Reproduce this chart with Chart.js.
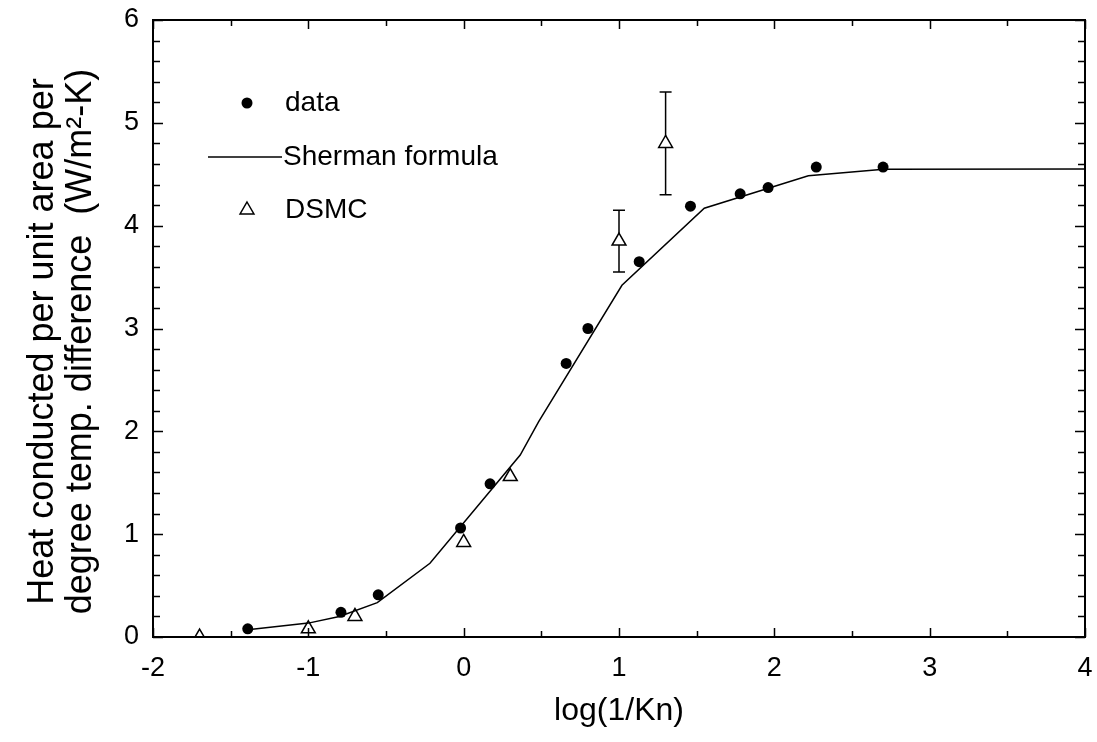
<!DOCTYPE html>
<html>
<head>
<meta charset="utf-8">
<script src="https://cdn.jsdelivr.net/npm/chart.js@4.4.1/dist/chart.umd.min.js"></script>
<style>
  html, body { margin: 0; padding: 0; background: #fff; }
  canvas { display: block; }
</style>
</head>
<body>
<canvas id="heatChart" width="1097" height="742"></canvas>
<script>
// Measured points: log(1/Kn) against heat conducted (W/m2-K)
const dataX = [-1.39, -0.79, -0.55, -0.02, 0.17, 0.66, 0.80, 1.13, 1.46, 1.78, 1.96, 2.27, 2.70]
const dataY = [0.08, 0.24, 0.41, 1.06, 1.49, 2.66, 3.00, 3.65, 4.19, 4.31, 4.37, 4.57, 4.57]

// Sherman interpolation formula
const shermanX = [-1.39, -1.0, -0.8, -0.556, -0.217, 0.364, 0.482, 1.019, 1.549, 2.219, 2.704, 4.0]
const shermanY = [0.07, 0.135, 0.20, 0.334, 0.717, 1.769, 2.092, 3.42, 4.169, 4.486, 4.548, 4.55]

// DSMC runs, with error bars on the two near-continuum cases
const dsmcX = [-1.7, -1.0, -0.7, 0.0, 0.3, 1.0, 1.3]
const dsmcY = [0.0, 0.08, 0.20, 0.92, 1.56, 3.85, 4.80]
const dsmcErr = [0, 0, 0, 0, 0, 0.3, 0.5]

// Axis ranges and tick spacing
const xRange = [-2, 4]
const yRange = [0, 6]
const xMajor = 1, xMinor = 0.5
const yMajor = 1, yMinor = 0.2

const yTitle = ['Heat conducted per unit area per', 'degree temp. difference  (W/m\u00B2-K)']

const toPoints = (xs, ys) => xs.map((x, i) => ({ x: x, y: ys[i] }))

const FONT = 'Liberation Sans, Arial, sans-serif'

//Marcas hacia dentro en los cuatro lados + marco
const frameTicks = {
    id: 'frameTicks',
    afterDraw(chart) {
        const { ctx, chartArea: a, scales: { x, y } } = chart
        ctx.save()
        ctx.strokeStyle = '#000'
        ctx.lineWidth = 1.5
        ctx.beginPath()
        const nx = Math.round((xRange[1] - xRange[0]) / xMinor)
        for (let i = 0; i <= nx; i++) {
            const v = xRange[0] + i * xMinor
            const len = Math.abs(v / xMajor - Math.round(v / xMajor)) < 1e-6 ? 9 : 6
            const px = Math.round(x.getPixelForValue(v)) + 0.5
            ctx.moveTo(px, a.bottom); ctx.lineTo(px, a.bottom - len)
            ctx.moveTo(px, a.top); ctx.lineTo(px, a.top + len)
        }
        const ny = Math.round((yRange[1] - yRange[0]) / yMinor)
        for (let i = 0; i <= ny; i++) {
            const v = yRange[0] + i * yMinor
            const len = Math.abs(v / yMajor - Math.round(v / yMajor)) < 1e-6 ? 10 : 7
            const py = Math.round(y.getPixelForValue(v)) + 0.5
            ctx.moveTo(a.left, py); ctx.lineTo(a.left + len, py)
            ctx.moveTo(a.right, py); ctx.lineTo(a.right - len, py)
        }
        ctx.stroke()
        ctx.lineWidth = 2
        ctx.strokeRect(a.left, a.top, a.right - a.left, a.bottom - a.top)
        ctx.restore()
    }
}

//Título del eje Y en dos líneas, girado
const yAxisTitle = {
    id: 'yAxisTitle',
    afterDraw(chart) {
        const { ctx, chartArea: a } = chart
        ctx.save()
        ctx.translate(0, (a.top + a.bottom) / 2 + 13)
        ctx.rotate(-Math.PI / 2)
        ctx.fillStyle = '#000'
        ctx.font = '36px ' + FONT
        ctx.textAlign = 'center'
        ctx.textBaseline = 'middle'
        ctx.fillText(yTitle[0], 0, 43)
        ctx.fillText(yTitle[1], 0, 81)
        ctx.restore()
    }
}

//Barras de error (debajo de los triángulos)
const errorBars = {
    id: 'errorBars',
    beforeDatasetsDraw(chart) {
        const { ctx, scales: { x, y } } = chart
        ctx.save()
        ctx.strokeStyle = '#000'
        ctx.lineWidth = 1.5
        ctx.beginPath()
        dsmcX.forEach((xv, i) => {
            if (!dsmcErr[i]) return
            const px = x.getPixelForValue(xv)
            const top = y.getPixelForValue(dsmcY[i] + dsmcErr[i])
            const bot = y.getPixelForValue(dsmcY[i] - dsmcErr[i])
            ctx.moveTo(px, top); ctx.lineTo(px, bot)
            ctx.moveTo(px - 6, top); ctx.lineTo(px + 6, top)
            ctx.moveTo(px - 6, bot); ctx.lineTo(px + 6, bot)
        })
        ctx.stroke()
        ctx.restore()
    }
}

//Leyenda dentro del área del gráfico
const insideLegend = {
    id: 'insideLegend',
    afterDraw(chart) {
        const { ctx, chartArea: a } = chart
        const markX = a.left + 94
        const textX = a.left + 132
        const rows = [a.top + 83, a.top + 137, a.top + 190]
        ctx.save()
        ctx.fillStyle = '#000'
        ctx.strokeStyle = '#000'
        ctx.font = '28px ' + FONT
        ctx.textBaseline = 'middle'
        chart.data.datasets.forEach((ds, i) => {
            const ry = rows[i]
            if (ds.showLine) {
                ctx.lineWidth = ds.borderWidth
                ctx.beginPath()
                ctx.moveTo(a.left + 55, ry); ctx.lineTo(a.left + 129, ry)
                ctx.stroke()
                ctx.fillText(ds.label, a.left + 130, ry)
                return
            }
            ctx.beginPath()
            if (ds.pointStyle === 'triangle') {
                const r = ds.pointRadius
                ctx.moveTo(markX, ry - r)
                ctx.lineTo(markX + r * 0.866, ry + r / 2)
                ctx.lineTo(markX - r * 0.866, ry + r / 2)
                ctx.closePath()
                ctx.fillStyle = ds.backgroundColor
                ctx.fill()
                ctx.lineWidth = ds.borderWidth
                ctx.stroke()
            } else {
                ctx.arc(markX, ry, ds.pointRadius, 0, Math.PI * 2)
                ctx.fillStyle = ds.backgroundColor
                ctx.fill()
            }
            ctx.fillStyle = '#000'
            ctx.fillText(ds.label, textX, ry)
        })
        ctx.restore()
    }
}

// los rótulos de las escalas no deben empujar el área del gráfico
const noLabelOverflow = scale => {
    scale.paddingTop = 0
    scale.paddingBottom = 0
    scale.paddingLeft = 0
    scale.paddingRight = 0
}

const ctx = document.getElementById('heatChart').getContext('2d')
new Chart(ctx, {
    type: 'scatter',
    data: {
        datasets: [
            {
                label: 'data',
                data: toPoints(dataX, dataY),
                pointStyle: 'circle',
                pointRadius: 5.5,
                backgroundColor: '#000',
                borderColor: '#000',
                borderWidth: 0,
                showLine: false
            },
            {
                label: 'Sherman formula',
                data: toPoints(shermanX, shermanY),
                showLine: true,
                pointRadius: 0,
                borderColor: '#000',
                borderWidth: 1.5,
                tension: 0
            },
            {
                label: 'DSMC',
                data: toPoints(dsmcX, dsmcY),
                pointStyle: 'triangle',
                pointRadius: 8,
                backgroundColor: '#fff',
                borderColor: '#000',
                borderWidth: 1.5,
                showLine: false,
                clip: 0
            }
        ]
    },
    options: {
        responsive: false,
        animation: false,
        events: [],
        layout: { padding: { top: 20, right: 12, left: 0, bottom: 0 } },
        scales: {
            x: {
                type: 'linear',
                min: xRange[0],
                max: xRange[1],
                grid: { display: false, drawTicks: false },
                border: { display: false },
                ticks: { stepSize: xMajor, color: '#000', padding: 15, font: { family: FONT, size: 27 } },
                title: {
                    display: true,
                    text: 'log(1/Kn)',
                    color: '#000',
                    font: { family: FONT, size: 32 },
                    padding: { top: 0, bottom: 12 }
                },
                afterFit: scale => {
                    noLabelOverflow(scale)
                    scale.height = 105
                }
            },
            y: {
                type: 'linear',
                min: yRange[0],
                max: yRange[1],
                grid: { display: false, drawTicks: false },
                border: { display: false },
                ticks: { stepSize: yMajor, color: '#000', padding: 14, font: { family: FONT, size: 27 } },
                afterFit: scale => {
                    noLabelOverflow(scale)
                    scale.width = 153
                }
            }
        },
        plugins: {
            legend: { display: false },
            tooltip: { enabled: false }
        }
    },
    plugins: [frameTicks, errorBars, insideLegend, yAxisTitle]
})
</script>
</body>
</html>
